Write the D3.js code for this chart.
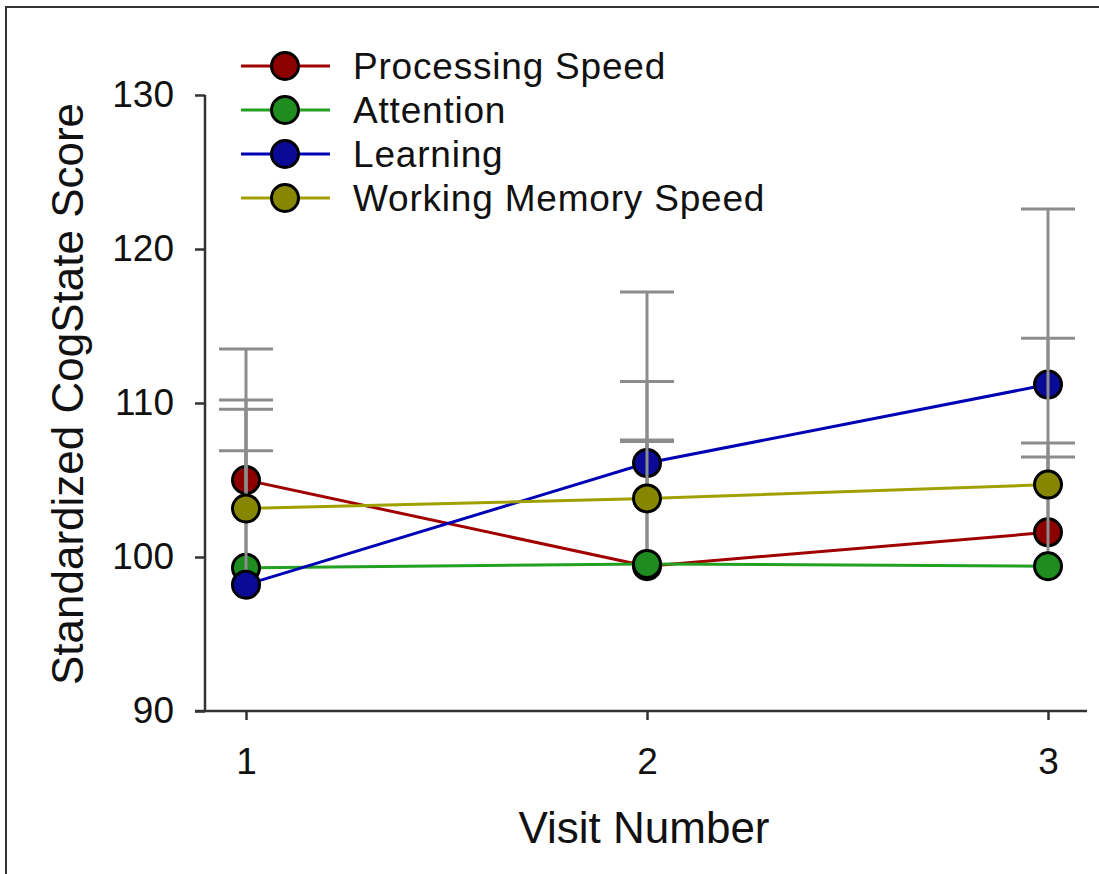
<!DOCTYPE html>
<html>
<head>
<meta charset="utf-8">
<script src="https://cdn.jsdelivr.net/npm/d3@7"></script>
<style>
    body { margin: 0; background: #fff; }
    text { font-family: 'Liberation Sans', Arial, sans-serif; fill: #111; }
</style>
</head>
<body>
<div id="chart"></div>
<script>
// data
const visits = [1, 2, 3];
const seriesNames = ['Processing Speed', 'Attention', 'Learning', 'Working Memory Speed'];
const processingSpeed = [105.0, 99.4, 101.6];
const processingSpeedSD = [8.5, 8.1, 5.8];
const attention = [99.3, 99.55, 99.4];
const attentionSD = [7.6, 8.05, 7.1];
const learning = [98.2, 106.1, 111.2];
const learningSD = [11.4, 11.1, 11.4];
const workingMemory = [103.15, 103.8, 104.7];
const workingMemorySD = [7.05, 7.6, 9.5];
const yTicks = [90, 100, 110, 120, 130];

const fills = ['#8c0000', '#1e8c1e', '#0a0a96', '#868600'];
const strokes = ['#a00000', '#22a022', '#0000b4', '#a0a000'];

const series = [
    { name: seriesNames[0], mean: processingSpeed, sd: processingSpeedSD },
    { name: seriesNames[1], mean: attention, sd: attentionSD },
    { name: seriesNames[2], mean: learning, sd: learningSD },
    { name: seriesNames[3], mean: workingMemory, sd: workingMemorySD },
];

const width = 1099;
const height = 874;

const svg = d3
    .select('#chart')
    .append('svg')
    .attr('width', width)
    .attr('height', height);

svg.append('rect').attr('width', width).attr('height', height).attr('fill', '#fff');

// frame (top + left only)
svg.append('path')
    .attr('d', `M6,${height} L6,7 L${width},7`)
    .attr('fill', 'none')
    .attr('stroke', '#333')
    .attr('stroke-width', 2);

const x = d3.scaleLinear().domain([1, 3]).range([246, 1048]);
const y = d3.scaleLinear().domain([90, 130]).range([711, 95]);

// axes
const yAxis = d3.axisLeft(y).tickValues(yTicks).tickSize(10).tickPadding(21);
const gy = svg.append('g').attr('transform', 'translate(205,0)').call(yAxis);
gy.select('.domain').remove();

const xAxis = d3.axisBottom(x).tickValues(visits).tickSize(9).tickPadding(28).tickFormat(d3.format('d'));
const gx = svg.append('g').attr('transform', 'translate(0,711)').call(xAxis);
gx.select('.domain').remove();

[gx, gy].forEach((g) => {
    g.selectAll('.tick line').attr('stroke', '#333').attr('stroke-width', 2.5);
    g.selectAll('.tick text').style('font-size', '37px').attr('fill', '#111');
});

svg.append('line')
    .attr('x1', 205).attr('x2', 205)
    .attr('y1', y(130)).attr('y2', y(90))
    .attr('stroke', '#333').attr('stroke-width', 2.5);
svg.append('line')
    .attr('x1', 195).attr('x2', 1087)
    .attr('y1', y(90)).attr('y2', y(90))
    .attr('stroke', '#333').attr('stroke-width', 2.5);

// axis titles
svg.append('text')
    .attr('x', 644)
    .attr('y', 843)
    .attr('text-anchor', 'middle')
    .style('font-size', '44px')
    .text('Visit Number');

svg.append('text')
    .attr('transform', 'translate(83,394) rotate(-90)')
    .attr('text-anchor', 'middle')
    .style('font-size', '44px')
    .text('Standardized CogState Score');

// lines
const line = d3.line().x((d, i) => x(visits[i])).y((d) => y(d));

series.forEach((s, k) => {
    svg.append('path')
        .datum(s.mean)
        .attr('d', line)
        .attr('fill', 'none')
        .attr('stroke', strokes[k])
        .attr('stroke-width', 3);
});

// error bars + markers
series.forEach((s, k) => {
    const g = svg.append('g');
    visits.forEach((v, i) => {
        const top = s.mean[i] + s.sd[i];
        g.append('line')
            .attr('x1', x(v)).attr('x2', x(v))
            .attr('y1', y(s.mean[i])).attr('y2', y(top))
            .attr('stroke', '#8c8c8c').attr('stroke-width', 3);
        g.append('line')
            .attr('x1', x(v) - 27).attr('x2', x(v) + 27)
            .attr('y1', y(top)).attr('y2', y(top))
            .attr('stroke', '#8c8c8c').attr('stroke-width', 3);
    });
    g.selectAll('circle')
        .data(s.mean)
        .enter()
        .append('circle')
        .attr('cx', (d, i) => x(visits[i]))
        .attr('cy', (d) => y(d))
        .attr('r', 13.5)
        .attr('fill', fills[k])
        .attr('stroke', '#000')
        .attr('stroke-width', 3);
});

// legend
const legend = svg.append('g');
series.forEach((s, k) => {
    const ly = 66 + k * 44;
    legend.append('line')
        .attr('x1', 241).attr('x2', 330)
        .attr('y1', ly).attr('y2', ly)
        .attr('stroke', strokes[k]).attr('stroke-width', 3);
    legend.append('circle')
        .attr('cx', 285).attr('cy', ly)
        .attr('r', 13.5)
        .attr('fill', fills[k])
        .attr('stroke', '#000')
        .attr('stroke-width', 3);
    legend.append('text')
        .attr('x', 353)
        .attr('y', ly + 13)
        .style('font-size', '37px')
        .style('letter-spacing', '0.8px')
        .text(s.name);
});
</script>
</body>
</html>
